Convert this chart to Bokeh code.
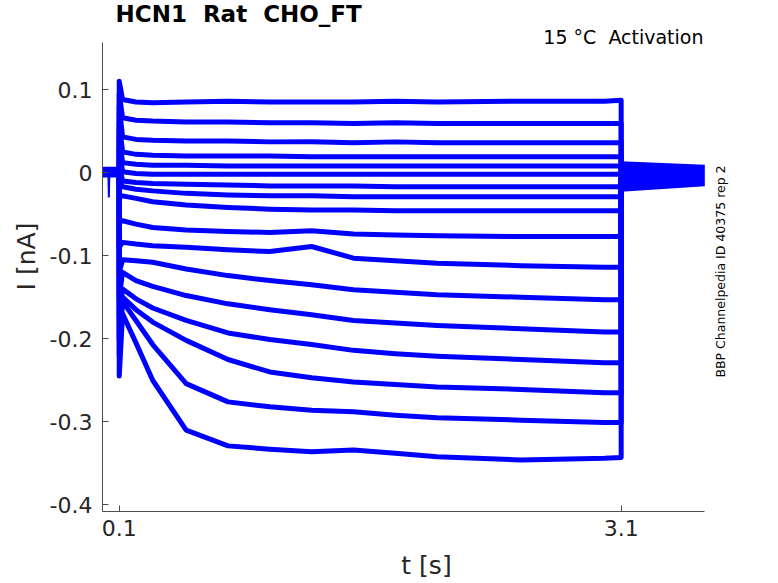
from math import pi

from bokeh.plotting import figure
from bokeh.models import Range1d, FixedTicker, Label
from bokeh.embed import file_html
from bokeh.resources import INLINE

# sample times (s) after the step starts at 0.1 s
t_grid = [0.12, 0.2, 0.3, 0.5, 0.75, 1.0, 1.25, 1.5, 1.75, 2.0, 2.5, 3.0, 3.1]

# current (nA) of each sweep at t_grid
trace_01 = [0.088, 0.085, 0.084, 0.085, 0.086, 0.085, 0.085, 0.085, 0.086, 0.085, 0.086, 0.086, 0.087]
trace_02 = [0.066, 0.063, 0.062, 0.061, 0.061, 0.060, 0.060, 0.059, 0.060, 0.059, 0.059, 0.059, 0.059]
trace_03 = [0.043, 0.040, 0.039, 0.038, 0.038, 0.037, 0.037, 0.036, 0.037, 0.036, 0.036, 0.036, 0.036]
trace_04 = [0.025, 0.022, 0.021, 0.020, 0.020, 0.020, 0.019, 0.019, 0.019, 0.019, 0.019, 0.019, 0.019]
trace_05 = [0.012, 0.010, 0.009, 0.009, 0.008, 0.008, 0.008, 0.008, 0.008, 0.008, 0.008, 0.008, 0.008]
trace_06 = [0.001, -0.001, -0.002, -0.002, -0.002, -0.002, -0.002, -0.002, -0.002, -0.002, -0.002, -0.002, -0.002]
trace_07 = [-0.010, -0.012, -0.013, -0.014, -0.015, -0.016, -0.016, -0.016, -0.017, -0.017, -0.017, -0.017, -0.017]
trace_08 = [-0.017, -0.020, -0.022, -0.025, -0.027, -0.028, -0.028, -0.029, -0.029, -0.029, -0.029, -0.029, -0.029]
trace_09 = [-0.028, -0.031, -0.035, -0.039, -0.042, -0.044, -0.045, -0.045, -0.046, -0.046, -0.046, -0.046, -0.046]
trace_10 = [-0.058, -0.062, -0.066, -0.069, -0.071, -0.072, -0.070, -0.074, -0.075, -0.076, -0.077, -0.077, -0.077]
trace_11 = [-0.084, -0.086, -0.088, -0.090, -0.093, -0.095, -0.089, -0.103, -0.106, -0.109, -0.112, -0.114, -0.114]
trace_12 = [-0.105, -0.106, -0.108, -0.116, -0.124, -0.130, -0.135, -0.141, -0.144, -0.147, -0.150, -0.153, -0.153]
trace_13 = [-0.120, -0.130, -0.137, -0.148, -0.158, -0.165, -0.171, -0.178, -0.181, -0.184, -0.188, -0.192, -0.192]
trace_14 = [-0.140, -0.152, -0.163, -0.178, -0.193, -0.201, -0.207, -0.214, -0.218, -0.221, -0.225, -0.229, -0.229]
trace_15 = [-0.150, -0.165, -0.180, -0.202, -0.225, -0.240, -0.247, -0.252, -0.255, -0.258, -0.261, -0.265, -0.265]
trace_16 = [-0.155, -0.178, -0.207, -0.254, -0.276, -0.282, -0.286, -0.288, -0.292, -0.295, -0.298, -0.301, -0.301]
trace_17 = [-0.170, -0.205, -0.250, -0.310, -0.329, -0.333, -0.336, -0.334, -0.338, -0.342, -0.346, -0.344, -0.343]

# capacitive transient at step onset (nA)
onset_peaks = [0.11, 0.095, 0.08, 0.06, 0.045, 0.03, 0.01, -0.01, -0.03,
               -0.06, -0.09, -0.12, -0.15, -0.175, -0.2, -0.22, -0.245]

# holding period before the step, with its small artefact
pre_t = [0.0, 0.1]
pre_hi = [0.007, 0.007]
pre_lo = [-0.006, -0.006]
blip_t = [0.035, 0.038, 0.041]
blip_i = [0.0, -0.030, 0.0]

# tail after the step (all sweeps overlap)
tail_t = [3.1, 3.6]
tail_hi = [0.0136, 0.0096]
tail_lo = [-0.023, -0.0165]

traces = [trace_01, trace_02, trace_03, trace_04, trace_05, trace_06, trace_07,
          trace_08, trace_09, trace_10, trace_11, trace_12, trace_13, trace_14,
          trace_15, trace_16, trace_17]

BLUE = "#0000ff"
GREY = "#262626"
FONT = "DejaVu Sans"
NB = "\u00a0"  # keeps the double spaces of the original texts

# the frame reaches above and right of the axes so the texts there are not clipped
p = figure(width=770, height=583, output_backend="svg", toolbar_location=None,
           x_range=Range1d(0, 3.873), y_range=Range1d(-0.408, 0.206),
           min_border_left=102, min_border_right=20,
           min_border_top=1, min_border_bottom=72)
p.outline_line_color = None
p.xgrid.visible = False
p.ygrid.visible = False

p.varea(x=pre_t, y1=pre_lo, y2=pre_hi, fill_color=BLUE)
p.line(blip_t, blip_i, color=BLUE, line_width=2)
p.varea(x=tail_t, y1=tail_lo, y2=tail_hi, fill_color=BLUE)

for peak, vals in zip(onset_peaks, traces):
    xs = [0.1, 0.1] + t_grid + [3.1]
    ys = [0.0, peak] + vals + [0.0]
    p.line(xs, ys, color=BLUE, line_width=5, line_join="round")
    p.line([0.1, 0.1], [0.0, peak], color=BLUE, line_width=1.5)

for ax in (p.xaxis[0], p.yaxis[0]):
    ax.axis_line_color = "#4d4d4d"
    ax.major_tick_line_color = "#4d4d4d"
    ax.major_tick_in = 6
    ax.major_tick_out = 0
    ax.minor_tick_line_color = None
    ax.major_label_text_font = FONT
    ax.major_label_text_font_size = "22px"
    ax.major_label_text_color = GREY
    ax.axis_label_text_font = FONT
    ax.axis_label_text_font_size = "25px"
    ax.axis_label_text_font_style = "normal"
    ax.axis_label_text_color = GREY

p.xaxis.bounds = (0, 3.6)
p.xaxis.axis_label = "t [s]"
p.xaxis.axis_label_standoff = 12
p.xaxis.ticker = FixedTicker(ticks=[0.1, 3.1])
p.xaxis.major_label_overrides = {0.1: "0.1", 3.1: "3.1"}
p.xaxis.major_label_standoff = 8

p.yaxis.bounds = (-0.408, 0.157)
p.yaxis.axis_label = "I [nA]"
p.yaxis.axis_label_standoff = 6
p.yaxis.ticker = FixedTicker(ticks=[-0.4, -0.3, -0.2, -0.1, 0, 0.1])
p.yaxis.major_label_overrides = {-0.4: "-0.4", -0.3: "-0.3", -0.2: "-0.2",
                                 -0.1: "-0.1", 0: "0", 0.1: "0.1"}
p.yaxis.major_label_standoff = 10

# texts placed in screen units from the frame's lower left corner
p.add_layout(Label(x=13, y=485, x_units="screen", y_units="screen",
                   text=f"HCN1{NB}{NB}Rat{NB}{NB}CHO_FT", text_font=FONT,
                   text_font_size="23px", text_font_style="bold", text_color="black"))
p.add_layout(Label(x=601, y=464, x_units="screen", y_units="screen",
                   text=f"15 °C{NB}{NB}Activation", text_font=FONT, text_font_size="19px",
                   text_align="right", text_color="black"))
p.add_layout(Label(x=625, y=240, x_units="screen", y_units="screen",
                   text="BBP Channelpedia ID 40375 rep 2", text_font=FONT,
                   text_font_size="12.5px", text_align="center", angle=pi / 2,
                   text_color="black"))

open("out.html", "w").write(file_html(p, INLINE))
